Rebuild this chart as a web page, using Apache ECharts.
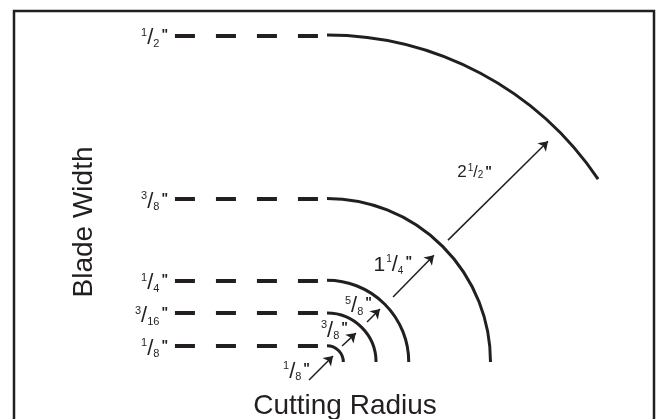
<!DOCTYPE html>
<html>
<head>
<meta charset="utf-8">
<script src="https://cdn.jsdelivr.net/npm/echarts@6/dist/echarts.min.js"></script>
<style>
  html, body { margin: 0; padding: 0; background: #fff; }
  #chart { width: 659px; height: 419px; }
</style>
</head>
<body>
<div id="chart"></div>
<script>
// all values in eighths of an inch, every arc is centred at (0, 0)
const bladeWidths = ['1/8', '3/16', '1/4', '3/8', '1/2'];
const cutRadii = [1, 3, 5, 10, 20];
const arcEndDeg = [0, 0, 0, 0, 34];
const dashStart = -9.3;
const bladeLabelX = -9.72;

const radiusLabels = ['1/8', '3/8', '5/8', '1 1/4', '2 1/2'];
const arrowFrom = [[-1.10, -1.10], [0.92, 0.98], [2.45, 2.45], [4.04, 3.98], [7.40, 7.46]];
const arrowTo = [[0.37, 0.37], [1.77, 1.77], [3.24, 3.24], [6.54, 6.54], [13.52, 13.52]];
const radiusLabelAt = [[-1.04, -0.61], [1.28, 1.90], [2.75, 3.43], [5.20, 5.93], [10.09, 11.62]];

const ink = '#231f20';
const font = '"Liberation Sans", Arial, Helvetica, sans-serif';

// font sizes: whole number, numerator/denominator, slash, quote
const sizeSmall = {w: 16, f: 11, s: 22, q: 14};
const sizeBig = {w: 21, f: 10, s: 22, q: 14};
const sizeMid = {w: 17, f: 10, s: 16, q: 14};
const radiusLabelSize = [sizeSmall, sizeSmall, sizeSmall, sizeBig, sizeMid];

// builds the rich text for things like 1/8" or 2 1/2"
function fracText(txt) {
  const parts = txt.split(' ');
  const whole = parts.length > 1 ? parts[0] : '';
  const nd = parts[parts.length - 1].split('/');
  return (whole ? '{w|' + whole + '}' : '') + '{n|' + nd[0] + '}{s|/}{d|' + nd[1] + '}{q|"}';
}

function fracRich(z) {
  return {
    w: {fontSize: z.w, fontFamily: font, fill: ink, lineHeight: z.w, verticalAlign: 'bottom', padding: [0, 1, 0, 0]},
    n: {fontSize: z.f, fontFamily: font, fill: ink, lineHeight: z.f, verticalAlign: 'top'},
    s: {fontSize: z.s, fontFamily: font, fill: ink, lineHeight: z.s},
    d: {fontSize: z.f, fontFamily: font, fill: ink, lineHeight: z.f, verticalAlign: 'bottom'},
    q: {fontSize: z.q, fontFamily: font, fontWeight: 'bold', fill: ink, lineHeight: z.q, verticalAlign: 'top', padding: [1, 0, 0, 2]}
  };
}

const chart = echarts.init(document.getElementById('chart'));

const option = {
  animation: false,
  grid: {left: 0, width: 654, top: 19, height: 392},
  xAxis: {type: 'value', min: -20, max: 20, show: false},
  yAxis: {type: 'value', min: -3, max: 21, show: false},
  graphic: [
    {type: 'rect', shape: {x: 14, y: 11, width: 640, height: 430},
      style: {fill: 'none', stroke: ink, lineWidth: 2.5}},
    {type: 'text', x: 345, y: 406,
      style: {text: 'Cutting Radius', font: '28px ' + font, fill: ink, align: 'center', verticalAlign: 'middle'}},
    {type: 'text', x: 84, y: 222, rotation: Math.PI / 2,
      style: {text: 'Blade Width', font: '28px ' + font, fill: ink, align: 'center', verticalAlign: 'middle'}}
  ],
  series: [
    {
      // dashed run-in at each blade width
      type: 'lines',
      coordinateSystem: 'cartesian2d',
      silent: true,
      lineStyle: {color: ink, width: 4, type: [20, 21], cap: 'butt', opacity: 1},
      data: cutRadii.map(r => ({coords: [[dashStart, r], [0, r]]}))
    },
    {
      // the arcs
      type: 'custom',
      silent: true,
      renderItem: function (params, api) {
        const r = api.value(0);
        const c = api.coord([0, 0]);
        const rp = api.size([r, 0])[0];
        return {
          type: 'arc',
          shape: {cx: c[0], cy: c[1], r: rp, startAngle: -Math.PI / 2,
            endAngle: -api.value(1) * Math.PI / 180, clockwise: true},
          style: {fill: 'none', stroke: ink, lineWidth: 3}
        };
      },
      data: cutRadii.map((r, i) => [r, arcEndDeg[i]])
    },
    {
      type: 'lines',
      coordinateSystem: 'cartesian2d',
      silent: true,
      symbol: ['none', 'arrow'],
      symbolSize: 9,
      lineStyle: {color: ink, width: 1.5, opacity: 1},
      data: arrowFrom.map((p, i) => ({coords: [p, arrowTo[i]]}))
    },
    {
      // blade width labels
      type: 'custom',
      silent: true,
      renderItem: function (params, api) {
        const p = api.coord([api.value(0), api.value(1)]);
        return {
          type: 'text', x: p[0], y: p[1] + 3,
          style: {text: fracText(bladeWidths[params.dataIndex]), rich: fracRich(sizeSmall),
            align: 'right', verticalAlign: 'middle', fill: ink}
        };
      },
      data: cutRadii.map(r => [bladeLabelX, r])
    },
    {
      // radius labels along the arrows
      type: 'custom',
      silent: true,
      renderItem: function (params, api) {
        const p = api.coord([api.value(0), api.value(1)]);
        const i = params.dataIndex;
        return {
          type: 'text', x: p[0], y: p[1],
          style: {text: fracText(radiusLabels[i]), rich: fracRich(radiusLabelSize[i]),
            align: 'right', verticalAlign: 'middle', fill: ink}
        };
      },
      data: radiusLabelAt
    }
  ]
};

chart.setOption(option);
</script>
</body>
</html>
